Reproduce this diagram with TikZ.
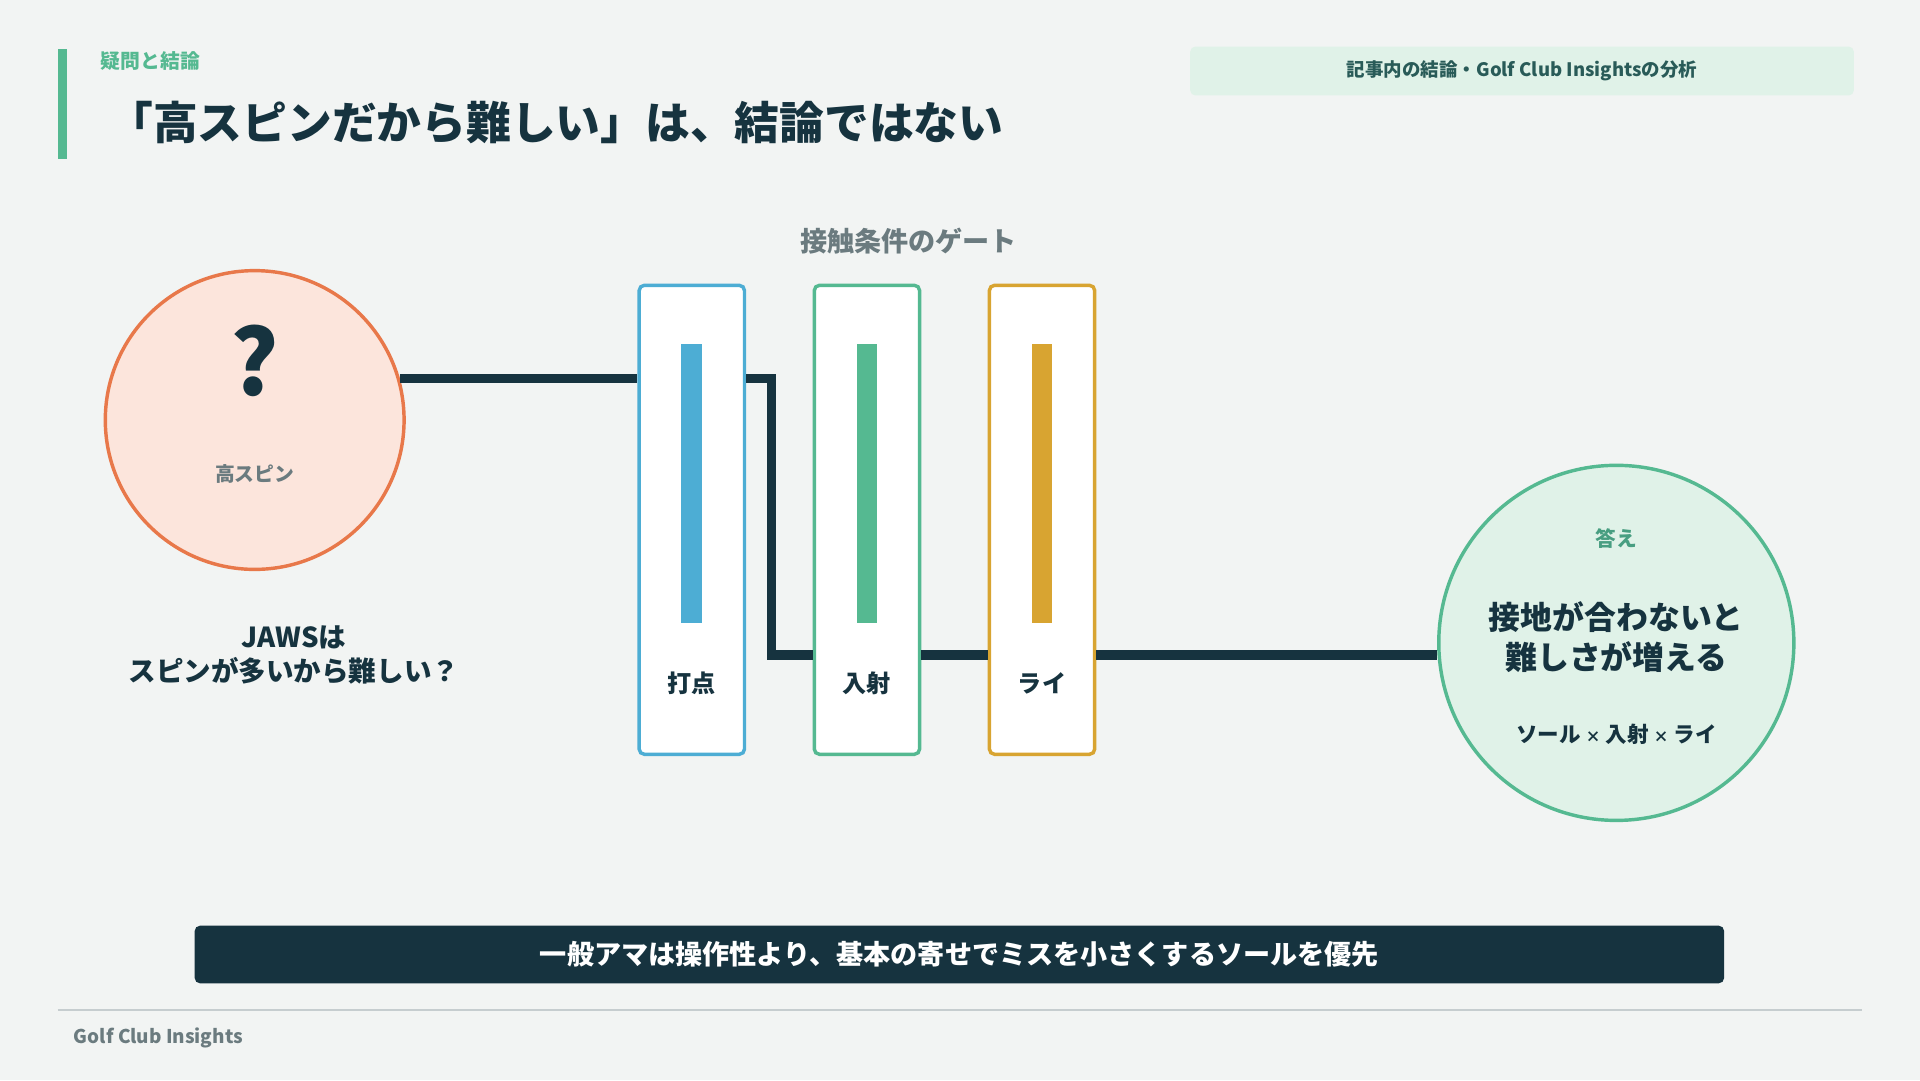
\documentclass[tikz,border=0pt]{standalone}
\usepackage{fontspec}
\setmainfont{Noto Sans CJK JP}
\usetikzlibrary{positioning}
\definecolor{bgc}{HTML}{F2F4F3}
\definecolor{ink}{HTML}{16333F}
\definecolor{mint}{HTML}{55B991}
\definecolor{mintlt}{HTML}{E0F2E8}
\definecolor{coral}{HTML}{E8784A}
\definecolor{corallt}{HTML}{FCE5DC}
\definecolor{sky}{HTML}{4DADD4}
\definecolor{gold}{HTML}{D8A431}
\definecolor{slate}{HTML}{6B7B7F}
\newcommand{\fs}[1]{\fontsize{#1}{1.25\dimexpr#1\relax}\selectfont}
\tikzset{
  gate/.style={draw=#1, line width=0.8pt, fill=white, rounded corners=1.2pt,
    minimum width=86mm/10, minimum height=383mm/10, inner sep=0pt},
  gatebar/.style={fill=#1, minimum width=17mm/10, minimum height=228mm/10, inner sep=0pt},
  gatelbl/.style={font=\fs{5.6pt}\bfseries, text=ink},
  wire/.style={draw=ink, line width=2.2pt}
}
\begin{document}
\begin{tikzpicture}[x=0.1mm,y=-0.1mm]
\useasboundingbox[fill=bgc] (0,0) rectangle (1568,882);
% header
\fill[mint] (47,40) rectangle (55,130);
\node[anchor=west, text=mint, font=\fs{4.6pt}\bfseries] (kicker) at (70,50) {疑問と結論};
\node[anchor=west, text=ink, font=\fs{10.4pt}\bfseries] (title) at (76,100) {「高スピンだから難しい」は、結論ではない};
\node[fill=mintlt, rounded corners=1.2pt, minimum width=542mm/10, minimum height=36mm/10,
  text=ink!70!mint, font=\fs{4.3pt}\bfseries] (src) at (1243,58) {記事内の結論・Golf Club Insightsの分析};
% question
\node[circle, draw=coral, fill=corallt, line width=0.8pt, minimum size=244mm/10] (q) at (208,343) {};
\node[text=ink, font=\fs{21pt}\bfseries] (qmark) at (208,295) {?};
\node[text=slate, font=\fs{4.6pt}\bfseries] (qlbl) at (208,387) {高スピン};
\node[text=ink, font=\fs{6.4pt}\bfseries, align=center] (qtxt) at (240,535) {JAWSは\\スピンが多いから難しい？};
% gates
\node[text=slate, font=\fs{6.3pt}\bfseries] (gtitle) at (742,197) {接触条件のゲート};
\node[gate=sky]  (g1) at (565,424.5) {};
\node[gate=mint] (g2) at (708,424.5) {};
\node[gate=gold] (g3) at (851,424.5) {};
\foreach \g/\c/\t in {g1/sky/打点, g2/mint/入射, g3/gold/ライ}{
  \node[gatebar=\c] at ([yshift=-16.3mm]\g.north) {};
  \node[gatelbl] at ([yshift=5.9mm]\g.south) {\t};
}
% answer
\node[circle, draw=mint, fill=mintlt, line width=0.8pt, minimum size=290mm/10] (ans) at (1320,525) {};
\node[text=mint!80!ink, font=\fs{4.8pt}\bfseries] (alab) at (1320,440) {答え};
\node[text=ink, font=\fs{7.4pt}\bfseries, align=center] (atxt) at (1320,520) {接地が合わないと\\難しさが増える};
\node[text=ink, font=\fs{5pt}\bfseries] (afac) at (1320,600) {ソール {\fs{3.5pt}×} 入射 {\fs{3.5pt}×} ライ};
% wire
\coordinate (bend) at (630,535);
\draw[wire] (q.16) -- (g1.west |- q.16);
\draw[wire] (g1.east |- q.16) -| (bend) -- (g2.west |- bend);
\draw[wire] (g2.east |- bend) -- (g3.west |- bend);
\draw[wire] (g3.east |- bend) -- (ans.west |- bend);
% footer
\node[fill=ink, rounded corners=1.2pt, minimum width=1249mm/10, minimum height=47mm/10,
  text=white, font=\fs{6.3pt}\bfseries] (take) at (783.5,779.5) {一般アマは操作性より、基本の寄せでミスを小さくするソールを優先};
\draw[draw=ink!20!bgc, line width=0.4pt] (47,825) -- (1521,825);
\node[anchor=west, text=slate, font=\fs{4.4pt}\bfseries] (brand) at (48,848) {Golf Club Insights};
\end{tikzpicture}
\end{document}
